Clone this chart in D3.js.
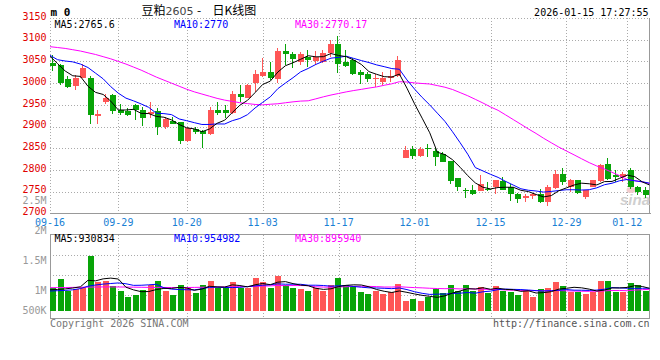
<!DOCTYPE html>
<html><head><meta charset="utf-8">
<script src="https://cdn.jsdelivr.net/npm/d3@7/dist/d3.min.js"></script>
<style>html,body{margin:0;padding:0;background:#fff;}svg{display:block;}</style>
</head><body>
<svg id="chart" width="660" height="360"></svg>
<script>
// ---------------- DATA ----------------
const dates = [
 "09-16","09-17","09-18","09-19","09-22","09-23","09-24","09-25","09-26","09-29","09-30",
 "10-09","10-10","10-13","10-14","10-15","10-16","10-17","10-20","10-21","10-22","10-23","10-24","10-27","10-28","10-29","10-30","10-31",
 "11-03","11-04","11-05","11-06","11-07","11-10","11-11","11-12","11-13","11-14","11-17","11-18","11-19","11-20","11-21","11-24","11-25","11-26","11-27","11-28",
 "12-01","12-02","12-03","12-04","12-05","12-08","12-09","12-10","12-11","12-12","12-15","12-16","12-17","12-18","12-19","12-22","12-23","12-24","12-25","12-26","12-29","12-30","12-31",
 "01-05","01-06","01-07","01-08","01-09","01-12","01-13","01-14","01-15"];
const tickDates = ["09-16","09-29","10-20","11-03","11-17","12-01","12-15","12-29","01-12"];

const open  = [3047,3041,3009,2994,3013,3013,2925,2957,2972,2938,2935,2949,2938,2930,2935,2898,2913,2911,2867,2894,
               2890,2884,2939,2939,2932,2975,2967,3001,3016,3026,3009,3073,3066,3049,3060,3051,3049,3070,3090,3049,
               3053,3025,3021,3009,3003,3013,3016,2827,2848,2833,2851,2843,2838,2821,2782,2755,2754,2752,2757,2761,
               2774,2761,2744,2735,2740,2744,2727,2759,2792,2761,2777,2737,2761,2774,2814,2788,2783,2800,2761,2754];
const high  = [3064,3045,3016,3018,3045,3016,2939,2976,2974,2951,2942,2953,2945,2957,2942,2922,2922,2911,2898,2898,
               2893,2944,2957,2949,2982,2995,2999,3031,3057,3049,3080,3090,3072,3072,3076,3074,3076,3100,3108,3076,
               3058,3031,3026,3022,3026,3031,3062,2855,2855,2854,2861,2850,2842,2821,2782,2759,2765,2788,2772,2778,
               2784,2769,2748,2746,2748,2756,2765,2800,2805,2779,2778,2755,2777,2815,2828,2800,2796,2805,2763,2761];
const low   = [3028,2995,2988,2984,3011,2905,2905,2951,2928,2926,2924,2915,2901,2919,2880,2894,2905,2860,2865,2884,
               2850,2880,2926,2919,2929,2957,2965,2980,3014,3008,3001,3041,3034,3041,3037,3041,3047,3060,3024,3037,
               3018,2999,3003,2992,2995,3003,3014,2827,2825,2830,2830,2810,2819,2769,2752,2735,2743,2752,2752,2745,
               2754,2729,2725,2727,2734,2725,2718,2757,2765,2749,2746,2734,2760,2772,2778,2773,2773,2756,2742,2736];
const close = [3040,3000,2991,3013,3034,2926,2930,2967,2936,2932,2926,2938,2920,2934,2899,2917,2907,2867,2896,2887,
               2884,2939,2932,2932,2975,2968,2995,3021,3026,3013,3073,3068,3055,3066,3054,3060,3070,3091,3044,3040,
               3021,3019,3009,3013,3013,3016,3054,2846,2833,2848,2848,2830,2819,2774,2761,2752,2746,2769,2755,2777,
               2755,2746,2734,2740,2744,2727,2761,2790,2773,2777,2748,2754,2777,2811,2779,2784,2790,2760,2750,2742];
const volume = [1045000,1200000,1000000,1028000,1075000,1588000,1155000,1167000,1088000,1000000,
                905000,933000,1017000,1100000,1167000,1000000,933000,1100000,1055000,972000,
                1100000,1167000,1045000,1045000,1155000,1045000,1055000,1217000,1155000,1055000,
                1255000,1100000,1050000,1033000,1000000,1045000,1005000,1100000,1222000,1100000,
                1088000,988000,950000,1000000,950000,988000,1117000,833000,867000,833000,
                905000,1033000,962000,1100000,1000000,1100000,1000000,1072000,972000,1088000,
                1000000,978000,933000,1017000,905000,1033000,1055000,1145000,1088000,988000,
                988000,945000,988000,1167000,1167000,988000,988000,1133000,1100000,1000000];

// moving-average values before a full window exists (they depend on earlier days)
const ma5Head  = [3062,3045,3028,3017];
const ma10Head = [3064,3054,3051,3049,3044,3036,3023,3010,2992];
const ma30Head = [3084,3082,3080,3077,3074,3070,3066,3061,3056,3050,3044,3037,3030,3022,3014,3007,3000,2993,2986,2980,
                  2975,2970,2965,2961,2958,2955,2953,2951,2950];
const vma5Head  = [1020000,1025000,1035000,1050000];
const vma10Head = [1000000,1005000,1010000,1020000,1040000,1080000,1100000,1115000,1125000];
const vma30Head = [1055000,1057000,1058000,1060000,1062000,1065000,1066000,1068000,1068000,1067000,1066000,1064000,1062000,1060000,1060000,
                   1059000,1058000,1058000,1058000,1060000,1062000,1064000,1066000,1068000,1070000,1072000,1075000,1078000,1082000];

const priceTicks = [2700,2750,2800,2850,2900,2950,3000,3050,3100,3150];
const volTicks = [2500000,2000000,1500000,1000000,500000];
const maLabels = ["MA5:2765.6","MA10:2770","MA30:2770.17"];
const vmaLabels = ["MA5:930834","MA10:954982","MA30:895940"];

// ---------------- LAYOUT ----------------
const n = dates.length;
const L = 50, R = 649.5;
const mainTop = 18, mainBot = 213.5;
const volTop = 234.5, volBot = 318.5, volBase = 311;
const mono = "'DejaVu Sans Mono', 'Liberation Mono', monospace";
const UP = "#ff5656", DOWN = "#08a408";

const svg = d3.select("#chart");
const xBand = d3.scaleBand().domain(d3.range(n)).range([49.5, 649.5]);
const xg = d3.scalePoint().domain(d3.range(n)).range([50, 650]);
const y = d3.scaleLinear().domain([2700, 3150]).range([mainBot, mainTop]);
const yv = d3.scaleLinear().domain([500000, 2500000]).range([321, 201]);

function ma(arr, k, head) {
  return arr.map((v, i) => i < k - 1 ? head[i] : d3.mean(arr.slice(i - k + 1, i + 1)));
}
const ma5 = ma(close, 5, ma5Head), ma10 = ma(close, 10, ma10Head), ma30 = ma(close, 30, ma30Head);
const vma5 = ma(volume, 5, vma5Head), vma10 = ma(volume, 10, vma10Head), vma30 = ma(volume, 30, vma30Head);

const tickIdx = tickDates.map(d => dates.indexOf(d));

// ---------------- GRID ----------------
const grid = svg.append("g").attr("stroke", "#aaa").attr("stroke-width", 1).attr("stroke-dasharray", "1,2").attr("shape-rendering", "crispEdges");
priceTicks.filter(t => t > 2700 && t < 3150).forEach(t => {
  grid.append("line").attr("x1", L).attr("x2", R).attr("y1", Math.round(y(t)) + 0.5).attr("y2", Math.round(y(t)) + 0.5);
});
tickIdx.filter(i => i > 0).forEach(i => {
  const gx = Math.round(xg(i)) + 0.5;
  grid.append("line").attr("x1", gx).attr("x2", gx).attr("y1", mainTop).attr("y2", mainBot);
  grid.append("line").attr("x1", gx).attr("x2", gx).attr("y1", volTop).attr("y2", volBot);
});
[20.5, 40.5, 60.5].forEach(off => {
  grid.append("line").attr("x1", L).attr("x2", R).attr("y1", volTop + off).attr("y2", volTop + off);
});
// dotted main top/left borders
grid.append("line").attr("x1", L).attr("x2", R).attr("y1", mainTop + 0.5).attr("y2", mainTop + 0.5);
grid.append("line").attr("x1", L + 0.5).attr("x2", L + 0.5).attr("y1", mainTop).attr("y2", mainBot);

// solid borders
const bd = svg.append("g").attr("stroke", "#999").attr("fill", "none").attr("shape-rendering", "crispEdges");
bd.append("line").attr("x1", L).attr("x2", R + 1).attr("y1", mainBot).attr("y2", mainBot);
bd.append("line").attr("x1", R).attr("x2", R).attr("y1", mainTop).attr("y2", mainBot).attr("stroke-width", 1.5);
bd.append("rect").attr("x", L + 0.5).attr("y", volTop).attr("width", R - L - 0.5).attr("height", volBot - volTop);

// watermark
svg.append("ellipse").attr("cx", 631).attr("cy", 190).attr("rx", 4.5).attr("ry", 3).attr("fill", "#f2cccc");
svg.append("text").attr("x", 620).attr("y", 205).attr("font-family", "'Liberation Sans', Arial, sans-serif")
  .attr("font-size", 15).attr("font-weight", "bold").attr("font-style", "italic").attr("fill", "#cfcfcf").text("sina");

// ---------------- CANDLES ----------------
const cg = svg.append("g").attr("shape-rendering", "crispEdges");
d3.range(n).forEach(i => {
  const up = close[i] >= open[i];
  const col = up ? UP : DOWN;
  const left = Math.round(xBand(i) + xBand.bandwidth() / 2 - 3);
  const top = Math.min(y(open[i]), y(close[i]));
  const h = Math.max(1, Math.abs(y(open[i]) - y(close[i])));
  cg.append("rect").attr("x", left + 2).attr("width", 1).attr("y", y(high[i])).attr("height", Math.max(1, y(low[i]) - y(high[i]))).attr("fill", col);
  cg.append("rect").attr("x", left).attr("width", 6).attr("y", top).attr("height", h).attr("fill", col);
  // volume
  cg.append("rect").attr("x", left).attr("width", 6).attr("y", yv(volume[i])).attr("height", volBase - yv(volume[i])).attr("fill", col);
});

// ---------------- MA LINES ----------------
const lineP = d3.line().x((d, i) => xg(i)).y(d => y(d));
const lineV = d3.line().x((d, i) => xg(i)).y(d => yv(d));
const clip = svg.append("clipPath").attr("id", "clp");
clip.append("rect").attr("x", L).attr("y", 0).attr("width", R - L).attr("height", 360);
const lg = svg.append("g").attr("clip-path", "url(#clp)").attr("fill", "none").attr("stroke-width", 1);
[[ma30, "#ff00ff"], [ma10, "#0000ff"], [ma5, "#000"]].forEach(([d, c]) => lg.append("path").attr("d", lineP(d)).attr("stroke", c));
[[vma30, "#ff00ff"], [vma10, "#0000ff"], [vma5, "#000"]].forEach(([d, c]) => lg.append("path").attr("d", lineV(d)).attr("stroke", c));

// ---------------- TEXT ----------------
const t = svg.append("g").attr("font-family", mono).attr("font-size", 10);
priceTicks.forEach(p => t.append("text").attr("x", 46.5).attr("y", y(p) + 1.7).attr("text-anchor", "end").attr("fill", "#e00000").text(p));
volTicks.forEach(v => t.append("text").attr("x", 46.5).attr("y", Math.min(yv(v), volBase) + 3.4).attr("text-anchor", "end").attr("fill", "#999")
  .text(v >= 1e6 ? (v / 1e6) + "M" : (v / 1e3) + "K"));
tickIdx.forEach(i => t.append("text").attr("x", xg(i)).attr("y", 225.6).attr("text-anchor", "middle").attr("fill", "#1a7fd4").text(dates[i]));

const maCols = ["#000", "#0000ff", "#ff00ff"], maX = [54.5, 174, 295];
maLabels.forEach((s, k) => t.append("text").attr("x", maX[k]).attr("y", 27.6).attr("fill", maCols[k]).text(s));
vmaLabels.forEach((s, k) => t.append("text").attr("x", maX[k]).attr("y", 242).attr("fill", maCols[k]).text(s));

t.append("text").attr("x", 50).attr("y", 327).attr("fill", "#777").text("Copyright 2026 SINA.COM");
t.append("text").attr("x", 649.5).attr("y", 327).attr("text-anchor", "end").attr("fill", "#555").text("http://finance.sina.com.cn");
t.append("text").attr("x", 648.5).attr("y", 15.5).attr("text-anchor", "end").attr("fill", "#000").text("2026-01-15 17:27:55");
t.append("text").attr("x", 50.5).attr("y", 15.5).attr("font-size", 11).attr("font-weight", "bold").attr("fill", "#000").text("m 0");

const title = svg.append("text").attr("y", 15).attr("font-family", "'Noto Sans CJK SC', sans-serif").attr("font-size", 12).attr("fill", "#000");
title.append("tspan").attr("x", 141.5).text("豆粕");
title.append("tspan").attr("fill", "#444").attr("font-family", "'DejaVu Sans', sans-serif").attr("font-size", 11).text("2605");
title.append("tspan").attr("x", 197).text("-");
title.append("tspan").attr("x", 212.5).text("日K线图");
</script>
</body></html>
